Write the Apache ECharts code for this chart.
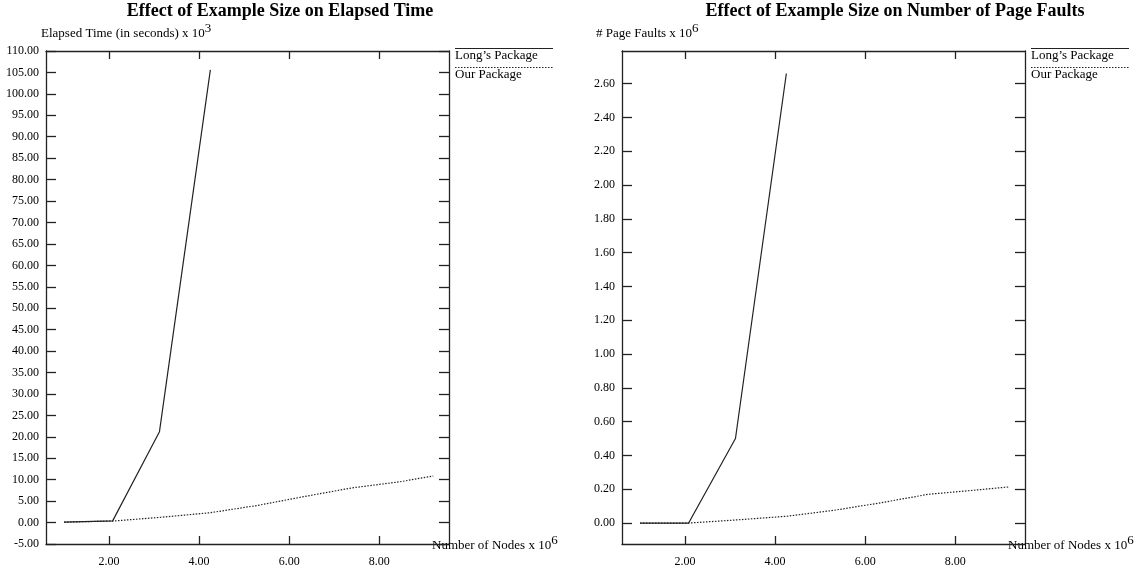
<!DOCTYPE html>
<html>
<head>
<meta charset="utf-8">
<script src="https://cdn.jsdelivr.net/npm/echarts@6/dist/echarts.min.js"></script>
<style>
  html, body { margin: 0; padding: 0; background: #fff; }
  #chart { width: 1134px; height: 573px; }
</style>
</head>
<body>
<div id="chart"></div>
<script>
// 数据
const nodesLong = [1.0, 2.08, 3.12, 4.25]
const nodesOur = [1.0, 2.08, 3.12, 4.25, 5.3, 6.35, 7.4, 8.45, 9.2]
const timeLong = [0.1, 0.4, 21.2, 105.6]
const timeOur = [0.1, 0.35, 1.2, 2.3, 4.0, 6.1, 8.1, 9.5, 10.85]
const faultsLong = [0, 0, 0.5, 2.66]
const faultsOur = [0, 0, 0.018, 0.04, 0.075, 0.12, 0.17, 0.195, 0.214]
const xTicks = [2, 4, 6, 8]
const faultTicks = [0, 0.2, 0.4, 0.6, 0.8, 1.0, 1.2, 1.4, 1.6, 1.8, 2.0, 2.2, 2.4, 2.6]
const seriesNames = ['Long’s Package', 'Our Package']

const FONT = "'Liberation Serif', 'Times New Roman', serif"
const INK = '#222'

const pairs = (xs, ys) => xs.map((x, i) => [x, ys[i]])

const supRich = {
  a: { fontFamily: FONT, fontSize: 13, fontWeight: 'normal', color: '#000' },
  s: { fontFamily: FONT, fontSize: 13, fontWeight: 'normal', color: '#000', padding: [0, 0, 10, 0] }
}

// x 轴（底部带标签，顶部只有刻度）
const makeXAxes = (gridIndex) => {
  const base = {
    type: 'value',
    gridIndex,
    min: 0.6,
    max: 9.55,
    axisLine: { onZero: false, lineStyle: { color: INK, width: 1.3 } },
    axisTick: { inside: true, length: 8, customValues: xTicks, lineStyle: { color: INK, width: 1.3 } },
    splitLine: { show: false }
  }
  return [
    {
      ...base,
      position: 'bottom',
      axisLabel: {
        customValues: xTicks,
        formatter: (v) => v.toFixed(2),
        fontFamily: FONT, fontSize: 12, color: '#000', margin: 12
      },
      name: '{a|Number of Nodes x 10}{s|6}',
      nameLocation: 'end',
      nameGap: -17,
      nameTextStyle: { rich: supRich, padding: [4, 0, 0, 0] }
    },
    { ...base, position: 'top', axisLabel: { show: false } }
  ]
}

// y 轴（左侧带标签，右侧只有刻度）
const makeYAxes = (gridIndex, range) => {
  const base = {
    type: 'value',
    gridIndex,
    ...range.scale,
    axisLine: { show: true, onZero: false, lineStyle: { color: INK, width: 1.3 } },
    axisTick: { show: true, inside: true, length: 10, lineStyle: { color: INK, width: 1.3 }, ...range.tick },
    splitLine: { show: false }
  }
  return [
    {
      ...base,
      position: 'left',
      axisLabel: {
        formatter: (v) => v.toFixed(2),
        fontFamily: FONT, fontSize: 12, color: '#000', margin: 7,
        ...range.label
      }
    },
    { ...base, position: 'right', axisLabel: { show: false } }
  ]
}

// 图例：线在文字上方
const makeLegend = (x) => [
  { type: 'line', shape: { x1: x, y1: 48.5, x2: x + 98, y2: 48.5 }, style: { stroke: INK, lineWidth: 1.2 } },
  { type: 'text', x: x, y: 49, style: { text: seriesNames[0], font: '13px ' + FONT, fill: '#000' } },
  { type: 'line', shape: { x1: x, y1: 67.5, x2: x + 98, y2: 67.5 }, style: { stroke: INK, lineWidth: 1.2, lineDash: [1.5, 1.5] } },
  { type: 'text', x: x, y: 68, style: { text: seriesNames[1], font: '13px ' + FONT, fill: '#000' } }
]

const lineSeries = (name, data, idx, dotted) => ({
  name,
  type: 'line',
  xAxisIndex: idx,
  yAxisIndex: idx,
  data,
  symbol: 'none',
  animation: false,
  lineStyle: dotted ? { color: INK, width: 1.2, type: [1.5, 1.5] } : { color: INK, width: 1.2 }
})

const chart = echarts.init(document.getElementById('chart'))

const timeRange = {
  scale: { min: -5, max: 110, interval: 5 },
  tick: {},
  label: {}
}
const faultRange = {
  scale: { min: -0.124, max: 2.793 },
  tick: { customValues: faultTicks },
  label: { customValues: faultTicks }
}

const option = {
  backgroundColor: '#fff',
  animation: false,
  title: [
    {
      text: 'Effect of Example Size on Elapsed Time',
      left: 275, top: -3, textAlign: 'center',
      textStyle: { fontFamily: FONT, fontSize: 18, fontWeight: 'bold', color: '#000' }
    },
    {
      text: 'Effect of Example Size on Number of Page Faults',
      left: 890, top: -3, textAlign: 'center',
      textStyle: { fontFamily: FONT, fontSize: 18, fontWeight: 'bold', color: '#000' }
    },
    {
      text: '{a|Elapsed Time (in seconds) x 10}{s|3}',
      left: 36, top: 17,
      textStyle: { fontWeight: 'normal', rich: supRich }
    },
    {
      text: '{a|# Page Faults x 10}{s|6}',
      left: 591, top: 17,
      textStyle: { fontWeight: 'normal', rich: supRich }
    }
  ],
  grid: [
    { left: 46, top: 51, width: 403, height: 493, outerBoundsMode: 'none' },
    { left: 622, top: 51, width: 403, height: 493, outerBoundsMode: 'none' }
  ],
  xAxis: [...makeXAxes(0), ...makeXAxes(1)],
  yAxis: [...makeYAxes(0, timeRange), ...makeYAxes(1, faultRange)],
  series: [
    lineSeries(seriesNames[0], pairs(nodesLong, timeLong), 0, false),
    lineSeries(seriesNames[1], pairs(nodesOur, timeOur), 0, true),
    lineSeries(seriesNames[0], pairs(nodesLong, faultsLong), 2, false),
    lineSeries(seriesNames[1], pairs(nodesOur, faultsOur), 2, true)
  ],
  graphic: [...makeLegend(455), ...makeLegend(1031)]
}

chart.setOption(option)
</script>
</body>
</html>
